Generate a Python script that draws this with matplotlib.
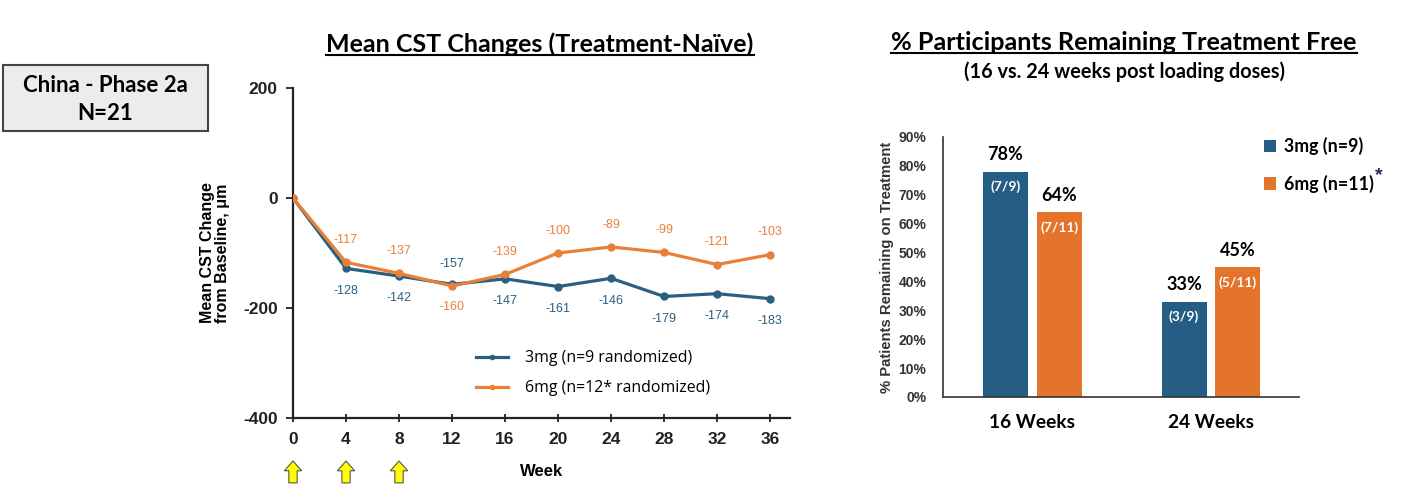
import matplotlib
matplotlib.use("Agg")
import matplotlib.pyplot as plt
from matplotlib.patches import Rectangle
from matplotlib.lines import Line2D

plt.rcParams["axes.unicode_minus"] = False

# ---------------- data ----------------
weeks = [0, 4, 8, 12, 16, 20, 24, 28, 32, 36]
cst_3mg = [0, -128, -142, -157, -147, -161, -146, -179, -174, -183]
cst_6mg = [0, -117, -137, -160, -139, -100, -89, -99, -121, -103]
label_3mg = "3mg (n=9 randomized)"
label_6mg = "6mg (n=12* randomized)"
yticks_left = [200, 0, -200, -400]
loading_weeks = [0, 4, 8]

bar_categories = ["16 Weeks", "24 Weeks"]
pct_3mg = [78, 33]
pct_6mg = [64, 45]
frac_3mg = ["(7/9)", "(3/9)"]
frac_6mg = ["(7/11)", "(5/11)"]
bar_label_3mg = "3mg (n=9)"
bar_label_6mg = "6mg (n=11)"
yticks_right = [0, 10, 20, 30, 40, 50, 60, 70, 80, 90]

BLUE = "#265d84"
ORANGE = "#e4732b"
LBLUE = "#2a5f80"
LORANGE = "#e8803a"

W, H = 1404, 496
fig = plt.figure(figsize=(W / 100, H / 100), dpi=100)

def fx(px):
    return px / W

def fy(py):
    return 1 - py / H

BOLD = "Liberation Sans"
CAL = "Lato"

# ---------------- info box ----------------
box = Rectangle((fx(3), fy(131)), fx(205), 66 / H, transform=fig.transFigure,
                facecolor="#ececec", edgecolor="#444444", linewidth=1.5)
fig.patches.append(box)
fig.text(fx(105), fy(85), "China - Phase 2a", ha="center", va="center",
         fontsize=16, fontweight="bold", family=CAL)
fig.text(fx(105), fy(113), "N=21", ha="center", va="center",
         fontsize=16, fontweight="bold", family=CAL)

# ---------------- left chart ----------------
axl = fig.add_axes([fx(293), fy(418), fx(497), 330 / H])
axl.plot(weeks, cst_3mg, color=LBLUE, lw=2.3, marker="o", ms=5, label=label_3mg, zorder=3)
axl.plot(weeks, cst_6mg, color=LORANGE, lw=2.3, marker="o", ms=5, label=label_6mg, zorder=4)
axl.set_xlim(0, 37.5)
axl.set_ylim(-400, 200)
axl.set_yticks(yticks_left)
axl.set_xticks(weeks)
for s in ["top", "right"]:
    axl.spines[s].set_visible(False)
for s in ["left", "bottom"]:
    axl.spines[s].set_linewidth(1.6)
    axl.spines[s].set_color("#222222")
axl.tick_params(axis="both", direction="inout", length=6, width=1.3, colors="#222222")
axl.tick_params(axis="y", direction="out", length=5, pad=6)
for lab in axl.get_xticklabels() + axl.get_yticklabels():
    lab.set_fontweight("bold")
    lab.set_family(BOLD)
    lab.set_fontsize(12.5)
axl.tick_params(axis="x", pad=7)
axl.set_ylabel("Mean CST Change\nfrom Baseline, \u03bcm", fontsize=11.5, fontweight="bold",
               family=BOLD, labelpad=9, linespacing=1.05)
axl.set_xlabel("Week", fontsize=12, fontweight="bold", family=BOLD, labelpad=12)

for w, a, b in zip(weeks[1:], cst_3mg[1:], cst_6mg[1:]):
    if w == 12:
        oa, ob = 15, -15
    else:
        oa, ob = -16, 16
    axl.annotate(f"{a}", (w, a), xytext=(0, oa), textcoords="offset points",
                 ha="center", va="center", fontsize=9, color=LBLUE, family=BOLD)
    axl.annotate(f"{b}", (w, b), xytext=(0, ob), textcoords="offset points",
                 ha="center", va="center", fontsize=9, color=LORANGE, family=BOLD)

leg = axl.legend(loc="upper left", bbox_to_anchor=(fx(462), fy(336)),
                 bbox_transform=fig.transFigure, frameon=False,
                 prop={"family": "Open Sans", "size": 11.4}, handlelength=2.0,
                 labelspacing=0.88, handletextpad=1.1, markerscale=0.6)

# loading-dose arrows
for w in loading_weeks:
    axl.annotate("", xy=(w, -0.122), xycoords=("data", "axes fraction"),
                 xytext=(w, -0.205), textcoords=("data", "axes fraction"),
                 arrowprops=dict(arrowstyle="simple,head_width=1.25,head_length=0.7,tail_width=0.6",
                                 fc="#ffff00", ec="#555555", lw=0.8),
                 annotation_clip=False)

# titles with underline
def underlined_title(x, y, s, size):
    t = fig.text(fx(x), fy(y), s, ha="center", va="center", fontsize=size,
                 fontweight="bold", family=CAL)
    fig.canvas.draw()
    bb = t.get_window_extent(renderer=fig.canvas.get_renderer())
    uy = bb.y0 + 1
    fig.add_artist(Line2D([bb.x0 / W, bb.x1 / W], [uy / H, uy / H],
                          transform=fig.transFigure, color="black", lw=1.5))
    return t

underlined_title(540, 44, "Mean CST Changes (Treatment-Na\u00efve)", 18)
underlined_title(1124, 42, "% Participants Remaining Treatment Free", 18.2)
fig.text(fx(1124), fy(72), "(16 vs. 24 weeks post loading doses)", ha="center",
         va="center", fontsize=14.3, fontweight="bold", family=CAL)

# ---------------- right chart ----------------
axr = fig.add_axes([fx(943), fy(397), fx(356), 260 / H])
x = list(range(len(bar_categories)))
bw = 0.252
off = 0.151
b1 = axr.bar([i - off for i in x], pct_3mg, bw, color=BLUE, label=bar_label_3mg)
b2 = axr.bar([i + off for i in x], pct_6mg, bw, color=ORANGE, label=bar_label_6mg)
axr.set_xlim(-0.501, 1.493)
axr.set_ylim(0, 90)
axr.set_yticks(yticks_right)
axr.set_yticklabels([f"{v}%" for v in yticks_right])
axr.set_xticks(x)
axr.set_xticklabels(bar_categories)
for s in ["top", "right"]:
    axr.spines[s].set_visible(False)
for s in ["left", "bottom"]:
    axr.spines[s].set_linewidth(1.2)
    axr.spines[s].set_color("#333333")
axr.tick_params(axis="both", length=0)
axr.tick_params(axis="y", pad=12)
axr.tick_params(axis="x", pad=12)
for lab in axr.get_yticklabels():
    lab.set_fontweight("bold"); lab.set_family(BOLD); lab.set_fontsize(10)
    lab.set_color("#333333")
for lab in axr.get_xticklabels():
    lab.set_fontweight("bold"); lab.set_family(CAL); lab.set_fontsize(13.8)
axr.set_ylabel("% Patients Remaining on Treatment", fontsize=10.7, fontweight="bold",
               family=BOLD, color="#333333", labelpad=3)

for bars, vals, fr in [(b1, pct_3mg, frac_3mg), (b2, pct_6mg, frac_6mg)]:
    for r, v, f in zip(bars, vals, fr):
        cx = r.get_x() + r.get_width() / 2
        axr.annotate(f"{v}%", (cx, v), xytext=(0, 12), textcoords="offset points",
                     ha="center", va="center", fontsize=13, fontweight="bold", family=CAL)
        axr.annotate(f, (cx, v), xytext=(0, -11), textcoords="offset points",
                     ha="center", va="center", fontsize=10, fontweight="bold",
                     family=CAL, color="white")

lg = axr.legend(loc="upper left", bbox_to_anchor=(fx(1248), fy(121)),
                bbox_transform=fig.transFigure, frameon=False,
                prop={"family": CAL, "size": 12.8, "weight": "bold"},
                handlelength=0.7, handleheight=0.7, handletextpad=0.4, labelspacing=1.1)
fig.text(fx(1379), fy(176), "*", fontsize=14, fontweight="bold", color="#1f3050",
         ha="center", va="center", family=BOLD)

fig.savefig("out.png", dpi=100)
